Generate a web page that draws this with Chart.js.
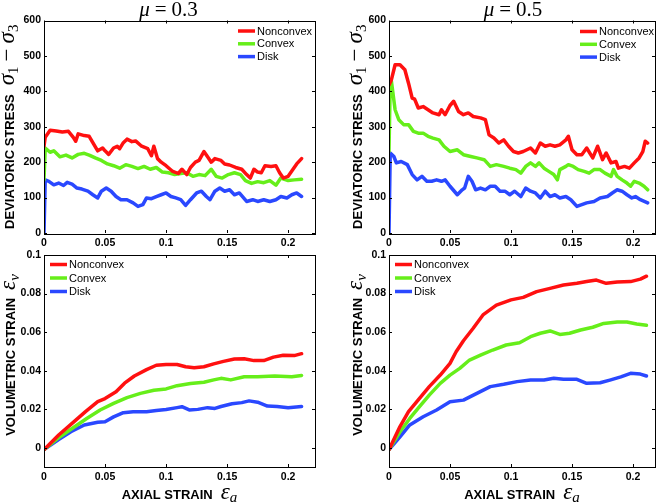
<!DOCTYPE html>
<html>
<head>
<meta charset="utf-8">
<script src="https://cdn.jsdelivr.net/npm/chart.js@4/dist/chart.umd.min.js"></script>
<style>
  html, body { margin: 0; padding: 0; background: #fff; }
  #wrap { position: relative; width: 660px; height: 503px; }
  #wrap canvas { position: absolute; left: 0; top: 0; }
</style>
</head>
<body>
<div id="wrap">
  <canvas id="tl" width="660" height="503"></canvas>
  <canvas id="tr" width="660" height="503"></canvas>
  <canvas id="bl" width="660" height="503"></canvas>
  <canvas id="br" width="660" height="503"></canvas>
</div>
<script>
// tick labels
const strainTicks = [0, 0.05, 0.1, 0.15, 0.2];
const stressTicks = [0, 100, 200, 300, 400, 500, 600];
const volTicks = [0, 0.02, 0.04, 0.06, 0.08, 0.1];
const shapeNames = ["Nonconvex", "Convex", "Disk"];

// deviatoric stress, mu = 0.3   [axial strain, stress]
const stress03Nonconvex = [[0,245],[0.001,270],[0.005,290],[0.01,288],[0.015,285],[0.02,287],[0.024,270],[0.026,259],[0.028,280],[0.033,275],[0.037,273],[0.04,255],[0.044,232],[0.048,240],[0.05,232],[0.053,222],[0.057,240],[0.06,245],[0.062,238],[0.065,255],[0.068,265],[0.072,258],[0.075,260],[0.08,245],[0.085,238],[0.088,218],[0.09,245],[0.093,210],[0.096,200],[0.1,190],[0.105,175],[0.11,168],[0.113,180],[0.117,165],[0.12,185],[0.124,200],[0.127,205],[0.131,230],[0.134,215],[0.137,200],[0.14,210],[0.145,205],[0.148,195],[0.152,192],[0.157,185],[0.162,180],[0.166,165],[0.169,155],[0.172,180],[0.175,172],[0.178,170],[0.181,190],[0.186,188],[0.19,190],[0.193,170],[0.196,155],[0.2,160],[0.203,175],[0.207,195],[0.211,210]];
const stress03Convex = [[0,150],[0.001,240],[0.005,228],[0.008,232],[0.013,215],[0.018,220],[0.023,212],[0.028,222],[0.033,225],[0.037,220],[0.042,212],[0.047,205],[0.052,195],[0.057,190],[0.062,183],[0.067,193],[0.072,188],[0.077,182],[0.082,188],[0.087,180],[0.092,185],[0.097,172],[0.102,170],[0.107,165],[0.112,168],[0.117,170],[0.122,160],[0.127,165],[0.132,162],[0.137,180],[0.141,160],[0.146,155],[0.151,165],[0.156,170],[0.161,165],[0.165,148],[0.17,140],[0.175,145],[0.18,142],[0.185,148],[0.19,135],[0.194,155],[0.2,148],[0.205,150],[0.211,152]];
const stress03Disk = [[0,0],[0.001,150],[0.004,146],[0.008,136],[0.012,141],[0.016,134],[0.019,143],[0.023,138],[0.027,127],[0.031,124],[0.036,118],[0.04,108],[0.044,99],[0.047,118],[0.051,127],[0.055,118],[0.059,103],[0.063,94],[0.068,94],[0.073,85],[0.077,75],[0.081,80],[0.084,99],[0.088,97],[0.092,103],[0.096,108],[0.1,113],[0.104,103],[0.108,99],[0.112,94],[0.116,78],[0.12,94],[0.125,113],[0.129,118],[0.133,103],[0.136,94],[0.14,118],[0.144,127],[0.148,118],[0.152,122],[0.156,108],[0.16,113],[0.166,89],[0.171,94],[0.175,89],[0.18,94],[0.185,89],[0.19,94],[0.194,103],[0.199,99],[0.203,108],[0.207,113],[0.211,103]];

// deviatoric stress, mu = 0.5
const stress05Nonconvex = [[0,418],[0.002,433],[0.005,475],[0.009,475],[0.013,461],[0.016,423],[0.019,381],[0.021,378],[0.024,353],[0.028,357],[0.032,348],[0.036,339],[0.041,334],[0.043,348],[0.046,334],[0.05,360],[0.053,372],[0.057,343],[0.061,334],[0.065,339],[0.069,329],[0.075,325],[0.079,320],[0.082,277],[0.086,268],[0.09,254],[0.094,263],[0.098,245],[0.102,230],[0.106,226],[0.11,230],[0.116,240],[0.12,226],[0.124,254],[0.128,245],[0.132,249],[0.136,245],[0.14,249],[0.145,263],[0.147,273],[0.15,235],[0.154,221],[0.158,221],[0.162,240],[0.167,212],[0.171,245],[0.175,207],[0.178,226],[0.182,198],[0.186,202],[0.188,183],[0.193,188],[0.197,183],[0.201,198],[0.205,212],[0.208,230],[0.21,259],[0.212,254]];
const stress05Convex = [[0,230],[0.001,423],[0.002,428],[0.005,348],[0.008,320],[0.012,306],[0.016,306],[0.02,287],[0.024,282],[0.028,282],[0.032,273],[0.036,268],[0.041,263],[0.045,245],[0.05,230],[0.056,235],[0.061,221],[0.067,216],[0.072,212],[0.078,207],[0.083,188],[0.088,193],[0.094,188],[0.099,183],[0.104,179],[0.108,169],[0.112,188],[0.116,198],[0.12,188],[0.123,198],[0.127,183],[0.131,174],[0.135,165],[0.138,150],[0.14,179],[0.145,188],[0.147,193],[0.151,188],[0.155,179],[0.16,174],[0.164,169],[0.168,179],[0.173,179],[0.177,169],[0.182,160],[0.184,179],[0.187,160],[0.191,150],[0.195,141],[0.198,132],[0.201,146],[0.205,141],[0.209,132],[0.212,122]];
const stress05Disk = [[0,0],[0.001,226],[0.004,216],[0.006,198],[0.01,202],[0.015,193],[0.019,165],[0.023,150],[0.027,160],[0.031,146],[0.035,146],[0.039,150],[0.043,146],[0.046,150],[0.05,132],[0.056,108],[0.06,122],[0.062,127],[0.065,160],[0.068,146],[0.071,122],[0.075,127],[0.079,122],[0.083,132],[0.087,132],[0.091,118],[0.095,118],[0.099,108],[0.103,118],[0.108,103],[0.112,127],[0.116,118],[0.12,113],[0.124,99],[0.128,118],[0.132,103],[0.136,108],[0.14,99],[0.145,103],[0.149,94],[0.154,75],[0.158,80],[0.162,85],[0.168,89],[0.173,99],[0.179,103],[0.183,113],[0.187,122],[0.191,118],[0.195,108],[0.199,99],[0.202,103],[0.206,94],[0.212,85]];

// volumetric strain, mu = 0.3
const vol03Nonconvex = [[0,-0.001],[0.012,0.0066],[0.023,0.0126],[0.034,0.0187],[0.044,0.0239],[0.05,0.0255],[0.059,0.029],[0.066,0.0335],[0.074,0.0372],[0.084,0.0405],[0.092,0.0428],[0.1,0.0432],[0.109,0.0432],[0.116,0.042],[0.123,0.0415],[0.131,0.042],[0.139,0.0435],[0.147,0.0448],[0.156,0.046],[0.164,0.0462],[0.172,0.0452],[0.18,0.0452],[0.188,0.047],[0.196,0.048],[0.205,0.0478],[0.211,0.0488]];
const vol03Convex = [[0,-0.001],[0.012,0.0052],[0.023,0.01],[0.035,0.0152],[0.046,0.0196],[0.057,0.023],[0.068,0.026],[0.079,0.0282],[0.09,0.0298],[0.1,0.0305],[0.109,0.0322],[0.12,0.0333],[0.131,0.034],[0.139,0.0352],[0.145,0.036],[0.153,0.0352],[0.164,0.0368],[0.175,0.0368],[0.189,0.0372],[0.203,0.0368],[0.211,0.0375]];
const vol03Disk = [[0,-0.001],[0.012,0.0043],[0.022,0.0083],[0.033,0.0118],[0.044,0.0132],[0.05,0.0135],[0.057,0.016],[0.065,0.0182],[0.073,0.0187],[0.084,0.0187],[0.092,0.0193],[0.1,0.0198],[0.109,0.0208],[0.113,0.0213],[0.119,0.0196],[0.126,0.0199],[0.134,0.0208],[0.14,0.0204],[0.145,0.0214],[0.154,0.0228],[0.162,0.0234],[0.168,0.0243],[0.175,0.0236],[0.183,0.0216],[0.191,0.0214],[0.2,0.0208],[0.211,0.0214]];

// volumetric strain, mu = 0.5
const vol05Nonconvex = [[0,-0.001],[0.009,0.011],[0.016,0.0187],[0.025,0.0256],[0.033,0.0317],[0.042,0.0377],[0.05,0.0438],[0.055,0.0498],[0.061,0.0555],[0.069,0.062],[0.077,0.0689],[0.088,0.074],[0.1,0.0767],[0.11,0.078],[0.121,0.081],[0.132,0.0827],[0.143,0.0844],[0.154,0.0853],[0.162,0.0862],[0.17,0.087],[0.178,0.0853],[0.187,0.086],[0.198,0.0862],[0.206,0.0875],[0.211,0.089]];
const vol05Convex = [[0,-0.001],[0.009,0.0083],[0.017,0.0152],[0.025,0.0213],[0.033,0.0273],[0.042,0.0334],[0.05,0.0377],[0.058,0.0412],[0.066,0.0455],[0.075,0.048],[0.085,0.0507],[0.096,0.0533],[0.107,0.0545],[0.116,0.0576],[0.124,0.0594],[0.132,0.0606],[0.14,0.0588],[0.148,0.0594],[0.157,0.0611],[0.167,0.0625],[0.176,0.0645],[0.187,0.0652],[0.195,0.0652],[0.203,0.0642],[0.211,0.0635]];
const vol05Disk = [[0,-0.001],[0.009,0.0057],[0.017,0.0118],[0.028,0.0161],[0.039,0.0196],[0.05,0.0239],[0.061,0.0247],[0.072,0.0282],[0.083,0.0317],[0.094,0.0329],[0.105,0.0343],[0.116,0.0351],[0.127,0.0351],[0.135,0.036],[0.143,0.0355],[0.154,0.0355],[0.162,0.0334],[0.173,0.0337],[0.181,0.0351],[0.19,0.0368],[0.198,0.0386],[0.206,0.0382],[0.211,0.0372]];

const lineColors = ["#ff1010", "#66ee1a", "#2a48ff"];

const SANS = '"Liberation Sans", Arial, sans-serif';
const SERIF = '"Liberation Serif", "Times New Roman", serif';

// draw a run of text pieces starting at x along baseline y
function pieceWidth(ctx, pieces) {
  let w = 0;
  pieces.forEach(p => {
    if (p.gap) { w += p.gap; return; }
    ctx.font = p.f;
    w += ctx.measureText(p.t).width;
  });
  return w;
}
function drawPieces(ctx, pieces, x, y) {
  pieces.forEach(p => {
    if (p.gap) { x += p.gap; return; }
    ctx.font = p.f;
    ctx.fillText(p.t, x, y + (p.dy || 0));
    x += ctx.measureText(p.t).width;
  });
}

const matlabLook = {
  id: "matlabLook",
  afterDraw(chart, args, o) {
    const ctx = chart.ctx;
    const a = chart.chartArea;
    const xs = chart.scales.x, ys = chart.scales.y;
    ctx.save();
    // axes box
    ctx.strokeStyle = "#000";
    ctx.lineWidth = 1;
    ctx.strokeRect(Math.round(a.left) + 0.5, Math.round(a.top) + 0.5,
      Math.round(a.right - a.left), Math.round(a.bottom - a.top));
    // inward tick marks on all four sides
    ctx.beginPath();
    xs.ticks.forEach(t => {
      const px = Math.round(xs.getPixelForValue(t.value)) + 0.5;
      ctx.moveTo(px, a.bottom); ctx.lineTo(px, a.bottom - 3);
      ctx.moveTo(px, a.top); ctx.lineTo(px, a.top + 3);
    });
    ys.ticks.forEach(t => {
      const py = Math.round(ys.getPixelForValue(t.value)) + 0.5;
      ctx.moveTo(a.left, py); ctx.lineTo(a.left + 3, py);
      ctx.moveTo(a.right, py); ctx.lineTo(a.right - 3, py);
    });
    ctx.stroke();

    ctx.fillStyle = "#000";
    ctx.textBaseline = "alphabetic";
    ctx.textAlign = "left";
    // panel title
    if (o.title) {
      const w = pieceWidth(ctx, o.title);
      drawPieces(ctx, o.title, (a.left + a.right) / 2 + o.titleDx - w / 2, 16);
    }
    // y axis title, rotated
    {
      const w = pieceWidth(ctx, o.yTitle);
      ctx.save();
      ctx.translate(o.yTitleX, (a.top + a.bottom) / 2 + (o.yTitleDy || 0));
      ctx.rotate(-Math.PI / 2);
      drawPieces(ctx, o.yTitle, -w / 2, 5);
      ctx.restore();
    }
    // x axis title
    if (o.xTitle) {
      const w = pieceWidth(ctx, o.xTitle);
      drawPieces(ctx, o.xTitle, (a.left + a.right) / 2 - w / 2, 499);
    }
    // legend
    const lg = o.legend;
    ctx.font = "11px " + SANS;
    ctx.textBaseline = "middle";
    chart.data.datasets.forEach((ds, i) => {
      const y = a.top + lg.y + i * lg.dy;
      const x = a.left + lg.x;
      ctx.strokeStyle = ds.borderColor;
      ctx.lineWidth = 3.5;
      ctx.beginPath();
      ctx.moveTo(x, y); ctx.lineTo(x + 17, y);
      ctx.stroke();
      ctx.fillStyle = "#000";
      ctx.fillText(ds.label, x + 19, y + 0.5);
    });
    ctx.restore();
  }
};

function makePanel(id, area, xMax, yRange, yTicks, series, look) {
  const W = 660, H = 503;
  const yW = 40, xH = 20;
  return new Chart(document.getElementById(id), {
    type: "line",
    data: {
      datasets: series.map((s, i) => ({
        label: shapeNames[i],
        data: s.map(p => ({ x: p[0], y: p[1] })),
        borderColor: lineColors[i],
        borderWidth: 3.5,
        borderJoinStyle: "round",
        borderCapStyle: "round",
        pointRadius: 0,
        tension: 0,
        fill: false,
      })),
    },
    options: {
      responsive: false,
      animation: false,
      events: [],
      layout: {
        padding: { left: area[0] - yW, top: area[1], right: W - area[2], bottom: H - area[3] - xH },
      },
      plugins: { legend: { display: false }, tooltip: { enabled: false }, matlabLook: look },
      scales: {
        x: {
          type: "linear",
          min: 0,
          max: xMax,
          afterFit: s => { s.height = xH; },
          afterBuildTicks: s => { s.ticks = strainTicks.map(v => ({ value: v })); },
          grid: { display: false, drawTicks: false },
          border: { display: false },
          ticks: {
            padding: 4,
            color: "#000",
            font: { family: SANS, size: 10.5, weight: "bold" },
            callback: v => String(+v.toFixed(3)),
          },
        },
        y: {
          type: "linear",
          min: yRange[0],
          max: yRange[1],
          afterFit: s => { s.width = yW; },
          afterBuildTicks: s => { s.ticks = yTicks.map(v => ({ value: v })); },
          grid: { display: false, drawTicks: false },
          border: { display: false },
          ticks: {
            padding: 3,
            color: "#000",
            font: { family: SANS, size: 10.5, weight: "bold" },
            callback: v => String(+v.toFixed(3)),
          },
        },
      },
    },
    plugins: [matlabLook],
  });
}

const stressTitle = [
  { t: "DEVIATORIC STRESS", f: "bold 13px " + SANS },
  { gap: 9 },
  { t: "\u03C3", f: "italic 23px " + SERIF },
  { t: "1", f: "15px " + SERIF, dy: 4 },
  { gap: 5 },
  { t: "\u2212", f: "23px " + SERIF },
  { gap: 5 },
  { t: "\u03C3", f: "italic 23px " + SERIF },
  { t: "3", f: "15px " + SERIF, dy: 4 },
];
const volTitle = [
  { t: "VOLUMETRIC STRAIN", f: "bold 13px " + SANS },
  { gap: 8 },
  { t: "\u03B5", f: "italic 23px " + SERIF },
  { t: "v", f: "italic 15px " + SERIF, dy: 4 },
];
const axialTitle = [
  { t: "AXIAL STRAIN", f: "bold 13px " + SANS },
  { gap: 8 },
  { t: "\u03B5", f: "italic 23px " + SERIF },
  { t: "a", f: "italic 15px " + SERIF, dy: 3 },
];
function muTitle(v) {
  return [
    { t: "\u03BC", f: "italic 21px " + SERIF },
    { gap: 5 },
    { t: "=", f: "21px " + SERIF },
    { gap: 5 },
    { t: v, f: "21px " + SERIF },
  ];
}

makePanel("tl", [44, 20.5, 315, 233], 0.222, [0, 600], stressTicks,
  [stress03Nonconvex, stress03Convex, stress03Disk],
  { title: muTitle("0.3"), titleDx: -11, yTitle: stressTitle, yTitleX: 9, legend: { x: 194, y: 10.5, dy: 12.8 } });
makePanel("tr", [389, 20.5, 655, 233], 0.218, [0, 600], stressTicks,
  [stress05Nonconvex, stress05Convex, stress05Disk],
  { title: muTitle("0.5"), titleDx: -9, yTitle: stressTitle, yTitleX: 357, legend: { x: 191, y: 11, dy: 12.8 } });
makePanel("bl", [44, 255, 315, 467], 0.222, [-0.01, 0.1], volTicks,
  [vol03Nonconvex, vol03Convex, vol03Disk],
  { yTitle: volTitle, yTitleX: 10, yTitleDy: -6, xTitle: axialTitle, legend: { x: 6, y: 9.5, dy: 13.5 } });
makePanel("br", [389, 255, 655, 467], 0.218, [-0.01, 0.1], volTicks,
  [vol05Nonconvex, vol05Convex, vol05Disk],
  { yTitle: volTitle, yTitleX: 357, yTitleDy: -6, xTitle: axialTitle, legend: { x: 6, y: 9.5, dy: 13.5 } });
</script>
</body>
</html>
